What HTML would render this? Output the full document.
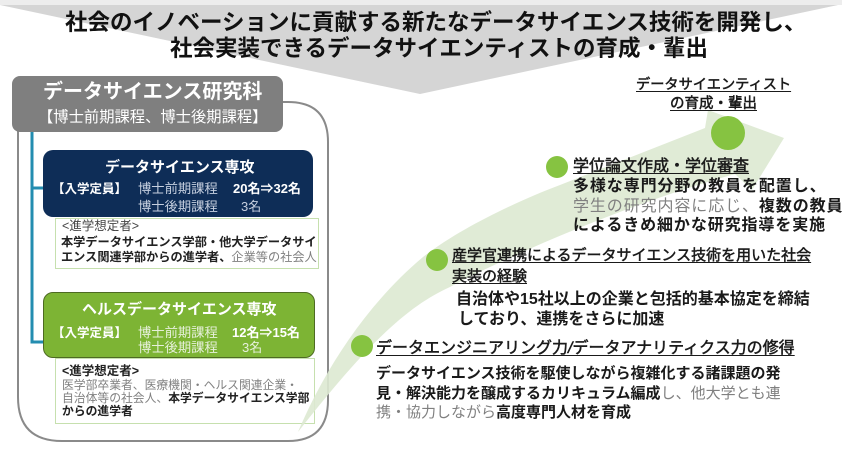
<!DOCTYPE html>
<html><head><meta charset="utf-8">
<style>
html,body{margin:0;padding:0;background:#fff;}
#c{position:relative;width:842px;height:457px;overflow:hidden;background:#fff;font-family:"Liberation Sans","Noto Sans CJK JP",sans-serif;color:#1a1a1a;}
.t{position:absolute;white-space:nowrap;}
.b{font-weight:bold;}
.g{color:#808080;font-weight:normal;}
.u{text-decoration:underline;text-decoration-thickness:1px;text-underline-offset:2px;}
.m{-webkit-text-stroke:0.5px #1a1a1a;}
.box{position:absolute;box-sizing:border-box;}
</style></head><body>
<div id="c">
<svg width="842" height="457" style="position:absolute;left:0;top:0">
  <rect x="0" y="0" width="842" height="5" fill="#ededed"/>
  <polygon points="0,5 838,5 420,94" fill="#d5d5d5"/>
  <!-- outline container -->
  <path d="M 283 102 L 288 102 Q 328 102 328 142 L 328 400 Q 328 441 288 441 L 62 441 Q 18 441 18 397 L 18 130" fill="none" stroke="#8a8a8a" stroke-width="2"/>
  <!-- teal connectors -->
  <path d="M 32 132 L 32 342 L 44 342 M 32 188 L 44 188" fill="none" stroke="#238db0" stroke-width="3"/>
</svg>

<!-- title -->
<div class="t b" style="left:65px;top:9px;font-size:22.5px;line-height:28px;color:#111">社会のイノベーションに貢献する新たなデータサイエンス技術を開発し、</div>
<div class="t b" style="left:170px;top:35px;font-size:22.5px;line-height:28px;color:#111">社会実装できるデータサイエンティストの育成・輩出</div>

<!-- gray header -->
<div class="box" style="left:12px;top:76px;width:271px;height:56px;background:#7f7f7f;border-radius:8px"></div>
<div class="t b" style="left:43px;top:80px;font-size:20px;line-height:24px;color:#fff">データサイエンス研究科</div>
<div class="t" style="left:38px;top:108px;font-size:15.3px;line-height:20px;color:#fff">【博士前期課程、博士後期課程】</div>

<!-- navy box -->
<div class="box" style="left:43px;top:150px;width:270px;height:67px;background:#0e2d57;border-radius:10px"></div>
<div class="t b" style="left:105px;top:158px;font-size:15px;line-height:20px;color:#fff">データサイエンス専攻</div>
<div class="t b" style="left:52px;top:180px;font-size:12.5px;line-height:18px;color:#fff">【入学定員】</div>
<div class="t" style="left:138px;top:180px;font-size:13.3px;line-height:18px;color:#c5cfdf">博士前期課程</div>
<div class="t b" style="left:233px;top:180px;font-size:13px;line-height:18px;color:#fff">20名⇒32名</div>
<div class="t" style="left:138px;top:198px;font-size:13.3px;line-height:18px;color:#c5cfdf">博士後期課程</div>
<div class="t" style="left:241px;top:198px;font-size:13px;line-height:18px;color:#c5cfdf">3名</div>

<!-- note 1 -->
<div class="box" style="left:55px;top:218px;width:264px;height:51px;background:#fff;border:1px solid #c6e0ae"></div>
<div class="t" style="left:62px;top:219px;font-size:12.5px;line-height:15px;color:#444">&lt;進学想定者&gt;</div>
<div class="t b" style="left:61px;top:235px;font-size:12.2px;line-height:15px;color:#222">本学データサイエンス学部・他大学データサイ</div>
<div class="t b" style="left:61px;top:250px;font-size:12.2px;line-height:15px;color:#222">エンス関連学部からの進学者、<span class="g">企業等の社会人</span></div>

<!-- green box -->
<div class="box" style="left:43px;top:292px;width:272px;height:66px;background:#7db434;border:1px solid #4d6a22;border-radius:10px"></div>
<div class="t b" style="left:82px;top:300px;font-size:15px;line-height:20px;color:#fff">ヘルスデータサイエンス専攻</div>
<div class="t b" style="left:52px;top:324px;font-size:12.5px;line-height:18px;color:#fff">【入学定員】</div>
<div class="t" style="left:138px;top:324px;font-size:13.3px;line-height:18px;color:#e6f0da">博士前期課程</div>
<div class="t b" style="left:232px;top:324px;font-size:13px;line-height:18px;color:#fff">12名⇒15名</div>
<div class="t" style="left:138px;top:339px;font-size:13.3px;line-height:18px;color:#e6f0da">博士後期課程</div>
<div class="t" style="left:242px;top:339px;font-size:13px;line-height:18px;color:#e6f0da">3名</div>

<!-- note 2 -->
<div class="box" style="left:55px;top:358px;width:260px;height:66px;background:#fff;border:1px solid #c6e0ae"></div>
<div class="t b" style="left:62px;top:364px;font-size:12.5px;line-height:15px;color:#222">&lt;進学想定者&gt;</div>
<div class="t g" style="left:62px;top:378px;font-size:11.8px;line-height:14px">医学部卒業者、医療機関・ヘルス関連企業・</div>
<div class="t g" style="left:62px;top:391px;font-size:11.8px;line-height:14px">自治体等の社会人、<span class="b" style="color:#222">本学データサイエンス学部</span></div>
<div class="t b" style="left:62px;top:404px;font-size:11.8px;line-height:14px;color:#222">からの進学者</div>

<!-- swoosh + dots (drawn over the note box edge like the reference) -->
<svg width="842" height="457" style="position:absolute;left:0;top:0">
  <path d="M 298 432 C 320 380, 360 310, 423 257 C 460 228, 520 200, 560 185 L 705 128 L 708 110 L 784 138 L 752 190 L 735 174 C 640 200, 520 250, 450 287 C 410 305, 370 340, 298 432 Z" fill="#dde9d2" fill-opacity="0.9"/>
  <circle cx="728" cy="133" r="17" fill="#86c341"/>
  <circle cx="557" cy="167" r="11" fill="#86c341"/>
  <circle cx="437" cy="260" r="11" fill="#86c341"/>
  <circle cx="362" cy="346" r="11" fill="#86c341"/>
</svg>

<!-- right side -->
<div class="t m u" style="left:636px;top:76px;font-size:14.2px;line-height:18px">データサイエンティスト</div>
<div class="t m u" style="left:670px;top:95px;font-size:14.5px;line-height:18px">の育成・輩出</div>

<div class="t m u" style="left:573px;top:157px;font-size:16px;line-height:20px">学位論文作成・学位審査</div>
<div class="t b" style="left:573px;top:177px;font-size:16px;line-height:20px;letter-spacing:0.9px">多様な専門分野の教員を配置し、</div>
<div class="t b" style="left:573px;top:197px;font-size:16px;line-height:20px;letter-spacing:0.9px"><span class="g">学生の研究内容に応じ、</span>複数の教員</div>
<div class="t b" style="left:573px;top:216px;font-size:16px;line-height:20px;letter-spacing:0.9px">によるきめ細かな研究指導を実施</div>

<div class="t m u" style="left:452px;top:246px;font-size:15px;line-height:20px">産学官連携によるデータサイエンス技術を用いた社会</div>
<div class="t m u" style="left:452px;top:267px;font-size:15px;line-height:20px">実装の経験</div>
<div class="t b" style="left:456px;top:290px;font-size:16px;line-height:20px">自治体や15社以上の企業と包括的基本協定を締結</div>
<div class="t b" style="left:458px;top:310px;font-size:16px;line-height:20px">しており、連携をさらに加速</div>

<div class="t m u" style="left:376px;top:339px;font-size:16px;line-height:20px;font-style:oblique 8deg">データエンジニアリング力/データアナリティクス力の修得</div>
<div class="t b" style="left:376px;top:364px;font-size:15px;line-height:20px">データサイエンス技術を駆使しながら複雑化する諸課題の発</div>
<div class="t b" style="left:376px;top:384px;font-size:15px;line-height:20px">見・解決能力を醸成するカリキュラム編成<span class="g">し、他大学とも連</span></div>
<div class="t b" style="left:376px;top:403px;font-size:15px;line-height:20px"><span class="g">携・協力しながら</span>高度専門人材を育成</div>
</div>
</body></html>
